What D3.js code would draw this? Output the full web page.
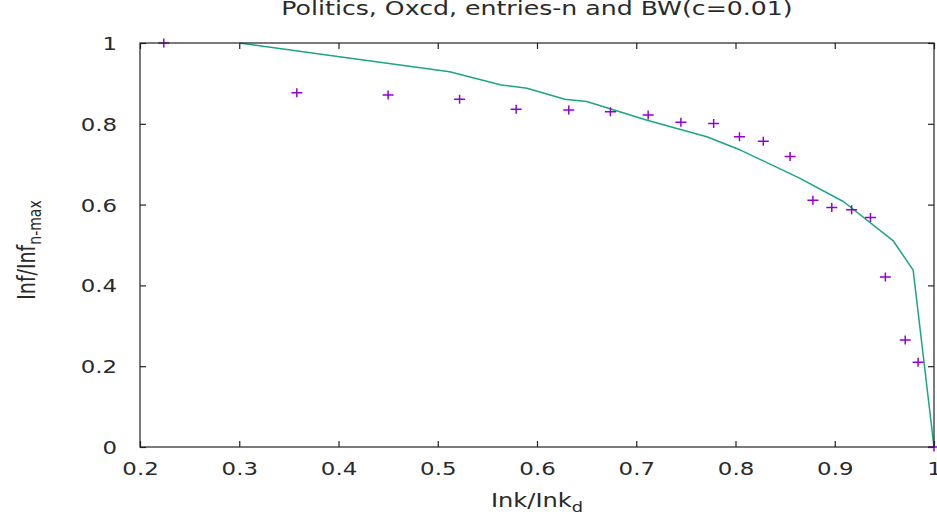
<!DOCTYPE html>
<html><head><meta charset="utf-8">
<script src="https://cdn.jsdelivr.net/npm/d3@7"></script>
<style>html,body{margin:0;padding:0;background:#fff;}svg{display:block;}</style>
</head><body>
<script>
// Data
const pointX = [0.224,0.358,0.450,0.522,0.579,0.632,0.674,0.712,0.745,0.778,0.804,0.828,0.855,0.878,0.897,0.917,0.936,0.951,0.971,0.984,1.0];
const pointY = [1.0,0.877,0.871,0.861,0.836,0.834,0.830,0.822,0.804,0.801,0.768,0.757,0.719,0.611,0.593,0.587,0.568,0.421,0.265,0.210,0.0];
const lineX = [0.300,0.401,0.512,0.564,0.590,0.628,0.650,0.711,0.771,0.805,0.865,0.909,0.959,0.979,1.0];
const lineY = [1.000,0.966,0.929,0.896,0.888,0.861,0.855,0.809,0.768,0.735,0.665,0.607,0.510,0.438,0.0];
const xTicks = [0.2,0.3,0.4,0.5,0.6,0.7,0.8,0.9,1];
const yTicks = [0,0.2,0.4,0.6,0.8,1];
const titleText = "Politics, Oxcd, entries-n and BW(c=0.01)";

const W = 937, H = 519;
const L = 140, R = 934, T = 43, B = 447;
const SX = 1.27;   // horizontal stretch of the reference glyphs
const font = "DejaVu Sans";
const textColor = "#2a2a2a";

const svg = d3.select("body").append("svg").attr("width", W).attr("height", H);
const x = d3.scaleLinear().domain([0.2, 1]).range([L, R]);
const y = d3.scaleLinear().domain([0, 1]).range([B, T]);

// Title
svg.append("text")
  .attr("transform", `translate(${(L+R)/2},15) scale(1.26,1)`)
  .attr("text-anchor", "middle").attr("font-family", font).attr("font-size", 20)
  .attr("fill", textColor).text(titleText);

// Axes with inward ticks (mirror on top/right)
const tickLen = 6;
const gx = svg.append("g").attr("transform", `translate(0,${B})`)
  .call(d3.axisBottom(x).tickValues(xTicks).tickSizeInner(-tickLen).tickSizeOuter(0).tickFormat(d3.format("")));
const gxTop = svg.append("g").attr("transform", `translate(0,${T})`)
  .call(d3.axisTop(x).tickValues(xTicks).tickSizeInner(-tickLen).tickSizeOuter(0).tickFormat(""));
const gy = svg.append("g").attr("transform", `translate(${L},0)`)
  .call(d3.axisLeft(y).tickValues(yTicks).tickSizeInner(-tickLen).tickSizeOuter(0).tickFormat(d3.format("")));
const gyR = svg.append("g").attr("transform", `translate(${R},0)`)
  .call(d3.axisRight(y).tickValues(yTicks).tickSizeInner(-tickLen).tickSizeOuter(0).tickFormat(""));
[gx, gxTop, gy, gyR].forEach(g => {
  g.select(".domain").remove();
  g.selectAll(".tick line").attr("stroke", "#222").attr("stroke-width", 1.2);
});
gx.selectAll(".tick text").each(function() {
  const t = d3.select(this);
  t.attr("y", null).attr("dy", null)
   .attr("transform", `translate(0,28) scale(${SX},1)`)
   .attr("font-family", font).attr("font-size", 18).attr("fill", textColor);
});
gy.selectAll(".tick text").each(function() {
  const t = d3.select(this);
  t.attr("x", null).attr("dy", null)
   .attr("transform", `translate(-23,6.5) scale(${SX},1)`)
   .attr("font-family", font).attr("font-size", 18).attr("fill", textColor)
   .attr("text-anchor", "end");
});

// Line series
const lineData = lineX.map((v, i) => [v, lineY[i]]);
svg.append("path").datum(lineData)
  .attr("fill", "none").attr("stroke", "#1aa584").attr("stroke-width", 1.5)
  .attr("stroke-linejoin", "round")
  .attr("d", d3.line().x(d => x(d[0])).y(d => y(d[1])));

// Point series (plus markers)
const pts = pointX.map((v, i) => [v, pointY[i]]);
const hw = 5.5, hh = 4.5;
svg.append("g").selectAll("path").data(pts).join("path")
  .attr("d", d => `M${x(d[0])-hw},${y(d[1])}H${x(d[0])+hw}M${x(d[0])},${y(d[1])-hh}V${y(d[1])+hh}`)
  .attr("stroke", "#9400d3").attr("stroke-width", 1.5).attr("fill", "none");

// Border on top
svg.append("rect").attr("x", L).attr("y", T).attr("width", R - L).attr("height", B - T)
  .attr("fill", "none").attr("stroke", "#222").attr("stroke-width", 1.2);

// Axis labels
const xl = svg.append("text")
  .attr("transform", `translate(${(L+R)/2},507) scale(${SX},1)`)
  .attr("text-anchor", "middle").attr("font-family", font).attr("font-size", 19).attr("fill", textColor);
xl.append("tspan").text("Ink/Ink");
xl.append("tspan").attr("font-size", 14).attr("dy", 5).text("d");

const yl = svg.append("text")
  .attr("transform", `translate(35,${(T+B)/2 + 5}) scale(${SX},1) rotate(-90)`)
  .attr("text-anchor", "middle").attr("font-family", font).attr("font-size", 19).attr("fill", textColor);
yl.append("tspan").text("Inf/Inf");
yl.append("tspan").attr("font-size", 14).attr("dy", 5).text("n-max");
</script>
</body></html>
